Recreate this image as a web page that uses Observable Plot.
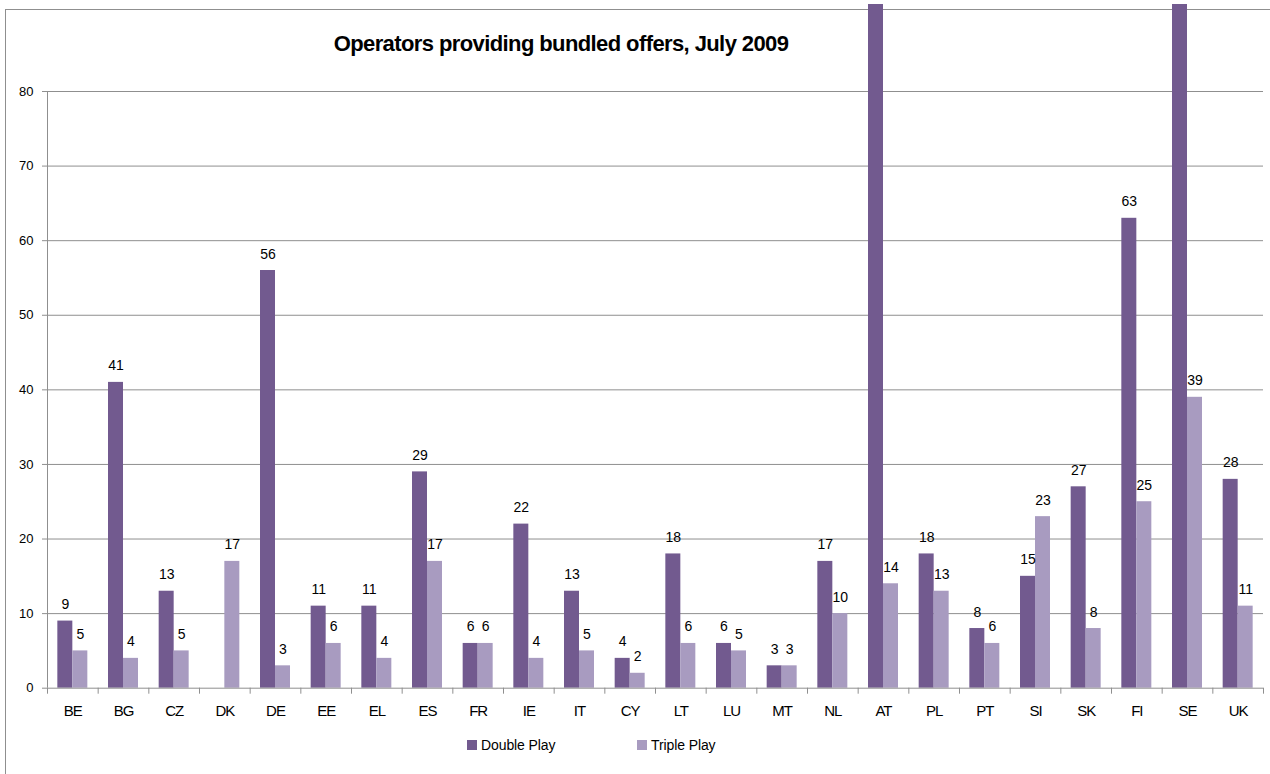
<!DOCTYPE html>
<html>
<head>
<meta charset="utf-8">
<script src="https://cdn.jsdelivr.net/npm/d3@7"></script>
<script src="https://cdn.jsdelivr.net/npm/@observablehq/plot@0.6"></script>
<style>
  html, body { margin: 0; padding: 0; background: #fff; }
  #wrap { position: relative; width: 1270px; height: 774px; overflow: hidden; font-family: "Liberation Sans", Arial, sans-serif; }
  #frame { position: absolute; left: 5px; top: 9px; width: 1300px; height: 900px; border: 1px solid #8f8f8f; box-sizing: border-box; }
  #chart { position: absolute; left: 0; top: 4px; }
  #chart svg { overflow: hidden; }
  #title { position: absolute; top: 31px; left: 0; width: 1122px; text-align: center; font-weight: bold; font-size: 22px; letter-spacing: -0.6px; color: #000; white-space: nowrap; }
  #legend { position: absolute; top: 737px; left: 467px; font-size: 14px; letter-spacing: -0.1px; color: #000; white-space: nowrap; }
  .item { position: absolute; top: 0; display: flex; align-items: center; }
  .sw { width: 10px; height: 10px; margin-right: 4px; }
</style>
</head>
<body>
<div id="wrap">
  <div id="frame"></div>
  <div id="chart"></div>
  <div id="title">Operators providing bundled offers, July 2009</div>
  <div id="legend"></div>
</div>
<script>
const countries = ["BE","BG","CZ","DK","DE","EE","EL","ES","FR","IE","IT","CY","LT","LU","MT","NL","AT","PL","PT","SI","SK","FI","SE","UK"];
const doublePlay = [9, 41, 13, null, 56, 11, 11, 29, 6, 22, 13, 4, 18, 6, 3, 17, 95, 18, 8, 15, 27, 63, 95, 28];
const triplePlay = [5, 4, 5, 17, 3, 6, 4, 17, 6, 4, 5, 2, 6, 5, 3, 10, 14, 13, 6, 23, 8, 25, 39, 11];
const seriesNames = ["Double Play", "Triple Play"];
const seriesColors = ["#725a8f", "#a89bc0"];
const yTicks = [0, 10, 20, 30, 40, 50, 60, 70, 80];

const W = 1270, H = 726;
const mL = 47, mR = 7, mT = 87, mB = 42.3;
const bw = (W - mL - mR) / countries.length;
const barW = 15;
const yMax = 80;

const dbl = countries.map((c, i) => ({country: c, value: doublePlay[i]})).filter(d => d.value != null);
const tpl = countries.map((c, i) => ({country: c, value: triplePlay[i]})).filter(d => d.value != null);
// value labels of bars running past the top of the axis are not visible in the chart
const dblLab = dbl.filter(d => d.value <= yMax);
const tplLab = tpl.filter(d => d.value <= yMax);

const chart = Plot.plot({
  width: W,
  height: H,
  marginLeft: mL,
  marginRight: mR,
  marginTop: mT,
  marginBottom: mB,
  style: {fontFamily: "Liberation Sans, Arial, sans-serif", fontSize: "13px", color: "#000", background: "transparent"},
  x: {domain: countries, padding: 0, round: false, label: null},
  y: {domain: [0, yMax], label: null},
  marks: [
    Plot.ruleY(yTicks.filter(t => t > 0), {stroke: "#8f8f8f", strokeWidth: 1}),
    Plot.barY(dbl, {x: "country", y: "value", fill: seriesColors[0], insetLeft: bw / 2 - barW, insetRight: bw / 2}),
    Plot.barY(tpl, {x: "country", y: "value", fill: seriesColors[1], insetLeft: bw / 2, insetRight: bw / 2 - barW}),
    Plot.text(dblLab, {x: "country", y: "value", text: d => String(d.value), dx: -barW / 2, dy: -12, lineAnchor: "bottom", fill: "#000", fontSize: 14}),
    Plot.text(tplLab, {x: "country", y: "value", text: d => String(d.value), dx: barW / 2, dy: -12, lineAnchor: "bottom", fill: "#000", fontSize: 14}),
    Plot.ruleY([0], {stroke: "#8f8f8f", strokeWidth: 1}),
    Plot.ruleX(countries, {x: d => d, dx: -bw / 2, y1: 0, y2: 0, insetBottom: -6, stroke: "#8f8f8f"}),
    Plot.ruleX([countries[countries.length - 1]], {x: d => d, dx: bw / 2, y1: 0, y2: 0, insetBottom: -6, stroke: "#8f8f8f"}),
    Plot.ruleX([countries[0]], {x: d => d, dx: -bw / 2, y1: 0, y2: yMax, stroke: "#8f8f8f"}),
    Plot.axisY({ticks: yTicks, tickSize: 5, tickPadding: 9, stroke: "#8f8f8f", label: null, fontSize: 13, tickFormat: d => String(d)}),
    Plot.axisX({tickSize: 0, tickPadding: 17, label: null, fontSize: 15})
  ]
});
chart.querySelectorAll("g[aria-label='x-axis tick label'] text").forEach(t => t.setAttribute("letter-spacing", "-1"));
chart.querySelectorAll("g[aria-label='y-axis tick label'] text").forEach(t => t.setAttribute("fill", "#000"));
document.getElementById("chart").appendChild(chart);

const legend = document.getElementById("legend");
const legendX = [0, 170];
seriesNames.forEach((name, i) => {
  const item = document.createElement("div");
  item.className = "item";
  item.style.left = legendX[i] + "px";
  const sw = document.createElement("span");
  sw.className = "sw";
  sw.style.background = seriesColors[i];
  const label = document.createElement("span");
  label.textContent = name;
  item.appendChild(sw);
  item.appendChild(label);
  legend.appendChild(item);
});
</script>
</body>
</html>
